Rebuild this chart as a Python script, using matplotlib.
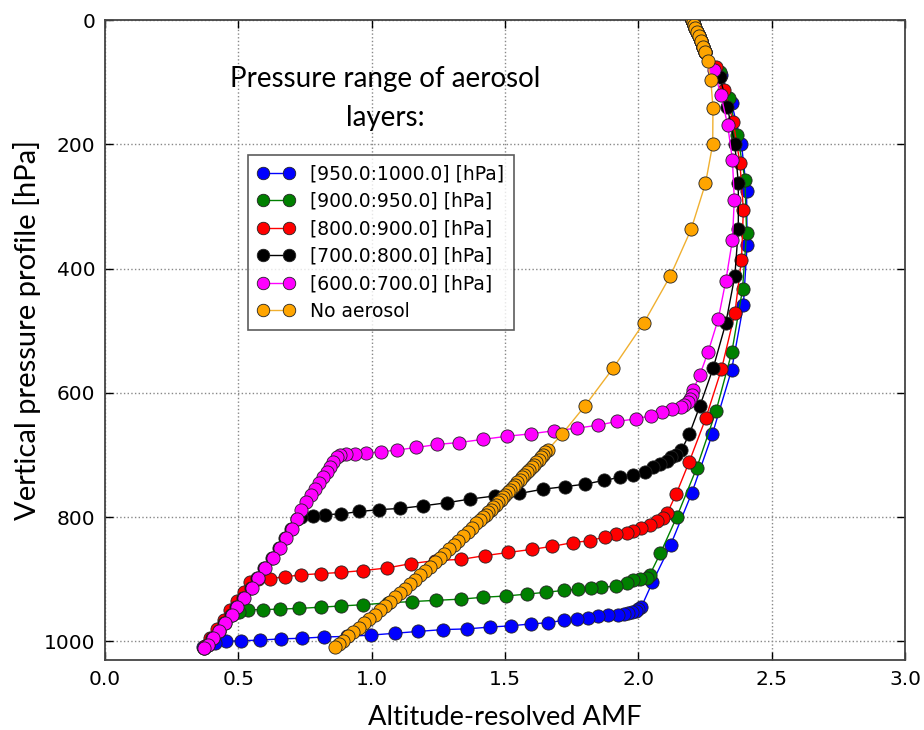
import matplotlib
matplotlib.use("Agg")
import matplotlib.pyplot as plt

# ---------------- data ----------------
top_x = [2.200, 2.204, 2.208, 2.213, 2.219, 2.226, 2.234, 2.243, 2.252]
top_p = [0, 4, 8, 13, 19, 26, 34, 43, 52]

blue_x = [2.312, 2.350, 2.387, 2.406, 2.408, 2.394, 2.350, 2.278, 2.200, 2.121, 2.053, 2.012,
          2.000, 1.990, 1.975, 1.960, 1.945, 1.925, 1.887, 1.850, 1.812, 1.769, 1.722, 1.662,
          1.597, 1.521, 1.444, 1.356, 1.269, 1.175, 1.087, 0.996, 0.906, 0.821, 0.738, 0.659,
          0.581, 0.512, 0.454, 0.412, 0.381, 0.369]
blue_p = [88, 134, 200, 275, 362, 459, 563, 666, 762, 845, 905, 944,
          948, 951, 953, 955, 956, 957, 958, 960, 963, 964, 966, 970,
          972, 975, 977, 980, 981, 984, 987, 990, 992, 993, 995, 996,
          998, 999, 1000, 1003, 1006, 1009]

green_x = [2.306, 2.340, 2.372, 2.400, 2.406, 2.391, 2.351, 2.291, 2.219, 2.144, 2.083, 2.043,
           2.031, 2.006, 1.981, 1.956, 1.918, 1.862, 1.822, 1.775, 1.721, 1.654, 1.581, 1.504,
           1.419, 1.337, 1.241, 1.150, 1.062, 0.969, 0.887, 0.809, 0.729, 0.656, 0.591, 0.537,
           0.504, 0.475, 0.450, 0.429, 0.406, 0.387, 0.371]
green_p = [83, 126, 185, 257, 342, 433, 534, 630, 721, 800, 858, 893,
           898, 900, 902, 906, 911, 913, 914, 916, 918, 921, 924, 927,
           929, 932, 934, 936, 938, 941, 943, 945, 947, 948, 949, 949,
           952, 957, 971, 984, 995, 1006, 1010]

red_x = [2.293, 2.322, 2.356, 2.381, 2.394, 2.387, 2.362, 2.312, 2.253, 2.191, 2.142, 2.108,
         2.094, 2.069, 2.044, 2.012, 1.981, 1.956, 1.918, 1.875, 1.819, 1.756, 1.678, 1.600,
         1.512, 1.425, 1.337, 1.237, 1.146, 1.056, 0.969, 0.887, 0.809, 0.737, 0.675, 0.619,
         0.575, 0.545, 0.520, 0.495, 0.470, 0.445, 0.420, 0.395, 0.375]
red_p = [75, 112, 164, 230, 305, 386, 472, 562, 641, 711, 763, 794,
         802, 807, 813, 818, 822, 825, 828, 832, 838, 841, 847, 852,
         857, 862, 868, 870, 875, 882, 886, 889, 891, 893, 896, 899,
         900, 905, 920, 935, 950, 965, 980, 995, 1008]

black_x = [2.306, 2.334, 2.362, 2.375, 2.375, 2.362, 2.328, 2.281, 2.231, 2.191, 2.162, 2.143,
           2.124, 2.106, 2.081, 2.056, 2.025, 1.981, 1.931, 1.871, 1.800, 1.725, 1.644, 1.554,
           1.462, 1.369, 1.281, 1.191, 1.108, 1.029, 0.954, 0.885, 0.825, 0.779, 0.735, 0.719,
           0.698, 0.676, 0.653, 0.628, 0.598, 0.572, 0.547, 0.518, 0.491, 0.472, 0.447, 0.426,
           0.403, 0.385, 0.370]
black_p = [91, 140, 200, 262, 337, 412, 488, 560, 621, 667, 692, 700,
           704, 709, 715, 720, 727, 732, 736, 741, 747, 751, 755, 762,
           766, 771, 777, 782, 786, 788, 791, 795, 796, 799, 800, 803,
           819, 834, 850, 866, 882, 898, 914, 930, 944, 957, 971, 984,
           995, 1006, 1010]

magenta_x = [2.283, 2.310, 2.335, 2.353, 2.360, 2.353, 2.328, 2.300, 2.262, 2.231, 2.206, 2.200,
             2.195, 2.185, 2.172, 2.160, 2.125, 2.090, 2.046, 1.990, 1.921, 1.850, 1.769, 1.685,
             1.596, 1.506, 1.416, 1.329, 1.247, 1.168, 1.096, 1.034, 0.979, 0.937, 0.904, 0.881,
             0.869, 0.856, 0.844, 0.831, 0.816, 0.802, 0.787, 0.771, 0.754, 0.737, 0.719, 0.700,
             0.679, 0.656, 0.631, 0.600, 0.575, 0.550, 0.521, 0.494, 0.475, 0.450, 0.429, 0.406,
             0.387, 0.371]
magenta_p = [80, 121, 169, 225, 289, 354, 420, 481, 534, 571, 595, 604,
             610, 615, 620, 623, 626, 631, 637, 642, 646, 652, 657, 661,
             666, 670, 675, 680, 683, 688, 692, 695, 697, 698, 699, 700,
             703, 711, 719, 727, 735, 745, 754, 764, 775, 788, 803, 819,
             834, 850, 866, 882, 898, 914, 930, 944, 957, 971, 984, 995,
             1006, 1010]

orange_x = [2.260, 2.272, 2.280, 2.279, 2.252, 2.198, 2.120, 2.020, 1.906, 1.800, 1.713,
            1.660, 1.652, 1.643, 1.635, 1.626, 1.618, 1.609, 1.600, 1.592, 1.583, 1.573, 1.565,
            1.556, 1.547, 1.538, 1.529, 1.520, 1.511, 1.502, 1.493, 1.484, 1.474, 1.465, 1.456,
            1.446, 1.437, 1.428, 1.417, 1.406, 1.393, 1.377, 1.360, 1.343, 1.325, 1.308, 1.290,
            1.272, 1.255, 1.237, 1.218, 1.201, 1.182, 1.164, 1.145, 1.126, 1.108, 1.089, 1.070,
            1.050, 1.031, 1.012, 0.992, 0.973, 0.953, 0.932, 0.913, 0.892, 0.878, 0.863]
orange_p = [66, 97, 141, 200, 263, 337, 412, 488, 560, 621, 667,
            692, 696, 700, 704, 708, 712, 716, 720, 724, 728, 732, 736,
            740, 744, 748, 752, 756, 760, 764, 768, 772, 776, 780, 784,
            788, 792, 796, 800, 805, 810, 817, 824, 831, 838, 845, 852,
            859, 866, 873, 880, 887, 894, 901, 908, 915, 922, 929, 936,
            943, 950, 957, 964, 971, 978, 985, 992, 999, 1004, 1009]

series = [
    ("[950.0:1000.0] [hPa]", "#0000ff", blue_x, blue_p),
    ("[900.0:950.0] [hPa]", "#008000", green_x, green_p),
    ("[800.0:900.0] [hPa]", "#ff0000", red_x, red_p),
    ("[700.0:800.0] [hPa]", "#000000", black_x, black_p),
    ("[600.0:700.0] [hPa]", "#ff00ff", magenta_x, magenta_p),
    ("No aerosol", "#ffa500", orange_x, orange_p),
]

x_ticks = [0.0, 0.5, 1.0, 1.5, 2.0, 2.5, 3.0]
y_ticks = [0, 200, 400, 600, 800, 1000]

# ---------------- plot ----------------
fig = plt.figure(figsize=(9.24, 7.30), dpi=100)
ax = fig.add_axes([0.1136, 0.0959, 0.8658, 0.8767])

for label, color, xs, ps in series:
    line_color = "#f0b030" if label == "No aerosol" else color
    ax.plot(top_x + xs, top_p + ps, "-o", color=line_color, lw=1.0,
            mfc=color, mec="#222222", mew=0.6, ms=9.5, label=label, zorder=3)

ax.set_xlim(0, 3.0)
ax.set_ylim(1030, 0)
ax.set_xticks(x_ticks)
ax.set_xticklabels([f"{v:.1f}" for v in x_ticks])
ax.set_yticks(y_ticks)
ax.tick_params(direction="in", length=6, width=1, labelsize=14.5, top=True, right=True,
               pad=7)
ax.grid(True, color="#888888", linestyle=":", linewidth=1.0)
for sp in ax.spines.values():
    sp.set_color("#444444")
    sp.set_linewidth(1.3)

ax.set_xlabel("Altitude-resolved AMF", fontsize=19.6, family="Lato", labelpad=12)
ax.set_ylabel("Vertical pressure profile [hPa]", fontsize=21, family="Lato")
ax.yaxis.set_label_coords(-0.08, 0.515)

ax.text(0.35, 0.877, "Pressure range of aerosol\nlayers:", transform=ax.transAxes,
        ha="center", va="center", fontsize=20, family="Lato", linespacing=1.6)

leg = ax.legend(loc="upper left", bbox_to_anchor=(0.179, 0.789), numpoints=2,
                fontsize=13.5, frameon=True, fancybox=False, borderpad=0.5,
                handlelength=2.0, labelspacing=0.45, handletextpad=0.8, borderaxespad=0)
leg.get_frame().set_edgecolor("#333333")
leg.get_frame().set_linewidth(1.2)
for h in leg.legend_handles:
    h.set_markersize(9)

fig.savefig("out.png", dpi=100)
